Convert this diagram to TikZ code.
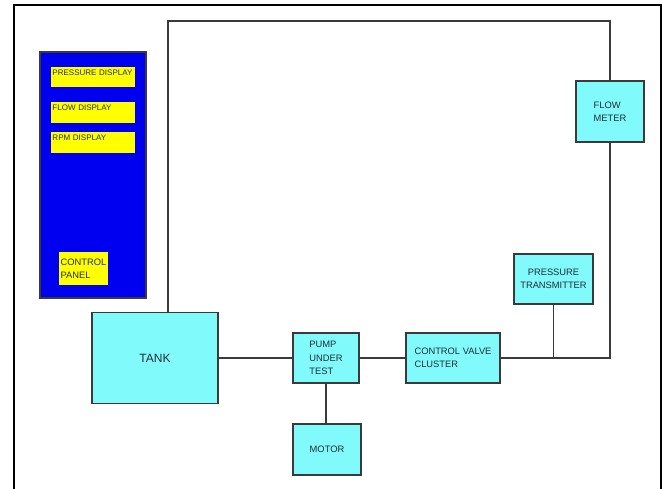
\documentclass[tikz,border=0pt]{standalone}
\usepackage{fontspec}
\setmainfont{Liberation Sans}
\definecolor{rigCyan}{HTML}{80FAFA}
\definecolor{rigBlue}{HTML}{0000F0}
\definecolor{rigYellow}{HTML}{FFFF00}
\definecolor{rigLine}{HTML}{3A3A3A}
\definecolor{rigInk}{HTML}{1E2E3A}
\tikzset{
  test rig/.style={
    x=0.75pt, y=-0.75pt,
    every node/.style={font=\fontsize{7}{10}\selectfont, text=rigInk,
      inner sep=1.5pt, outer sep=0pt}
  },
  rig box/.style={draw=rigLine, line width=1pt, fill=rigCyan},
  rig panel/.style={draw=rigLine, line width=1pt, fill=rigBlue},
  rig display/.style={fill=rigYellow, minimum width=62.25pt,
    text width=60pt, align=left, font=\fontsize{6}{7}\selectfont,
    text height=5pt, text depth=7.5pt},
  rig pipe/.style={draw=rigLine, line width=1pt},
  rig frame/.style={draw=black, line width=1.6pt}
}

\begin{document}
\begin{tikzpicture}[test rig]
    \useasboundingbox (0,0) rectangle (662,489);
    \draw[rig frame] (14,489) -- (14,5) -- (661,5) -- (661,489);
    % control panel
    \node[rig panel, minimum width=79.5pt, minimum height=184.5pt] (panel) at (93,175) {};
    \node[rig display] (pdisp) at (92.5,77) {PRESSURE DISPLAY};
    \node[rig display] (fdisp) at (92.5,112.5) {FLOW DISPLAY};
    \node[rig display] (rdisp) at (92.5,142.5) {RPM DISPLAY};
    \node[fill=rigYellow, minimum width=36.75pt, minimum height=24.75pt,
      align=left] (cpanel) at (83.5,268.5) {CONTROL\\PANEL};
    % rig
    \node[rig box, minimum width=94.5pt, minimum height=68.25pt,
      font=\fontsize{9}{10}\selectfont] (tank) at (155,358) {TANK};
    \node[rig box, minimum width=49.5pt, minimum height=37.5pt, align=left] (pump) at (326,358) {PUMP\\UNDER\\TEST};
    \node[rig box, minimum width=51pt, minimum height=38.25pt] (motor) at (327,449.5) {MOTOR};
    \node[rig box, minimum width=70.5pt, minimum height=37.5pt, align=left] (valve) at (453,358) {CONTROL VALVE\\CLUSTER};
    \node[rig box, minimum width=59.25pt, minimum height=37.5pt, align=center] (ptrans) at (553.5,279) {PRESSURE\\TRANSMITTER};
    \node[rig box, minimum width=51pt, minimum height=45.75pt, align=left] (fmeter) at (610,111.5) {FLOW\\METER};
    % pipework
    \coordinate (tankout) at (168,313);
    \coordinate (topleft) at (168,21);
    \draw[rig pipe] (tankout) -- (topleft) -| (fmeter.north);
    \draw[rig pipe] (fmeter.south) |- (valve.east);
    \draw[rig pipe] (ptrans.south) -- (ptrans.south |- valve.east);
    \draw[rig pipe] (tank.east) -- (pump.west);
    \draw[rig pipe] (pump.east) -- (valve.west);
    \draw[rig pipe] (pump.south) -- (pump.south |- motor.north);
\end{tikzpicture}
\end{document}
